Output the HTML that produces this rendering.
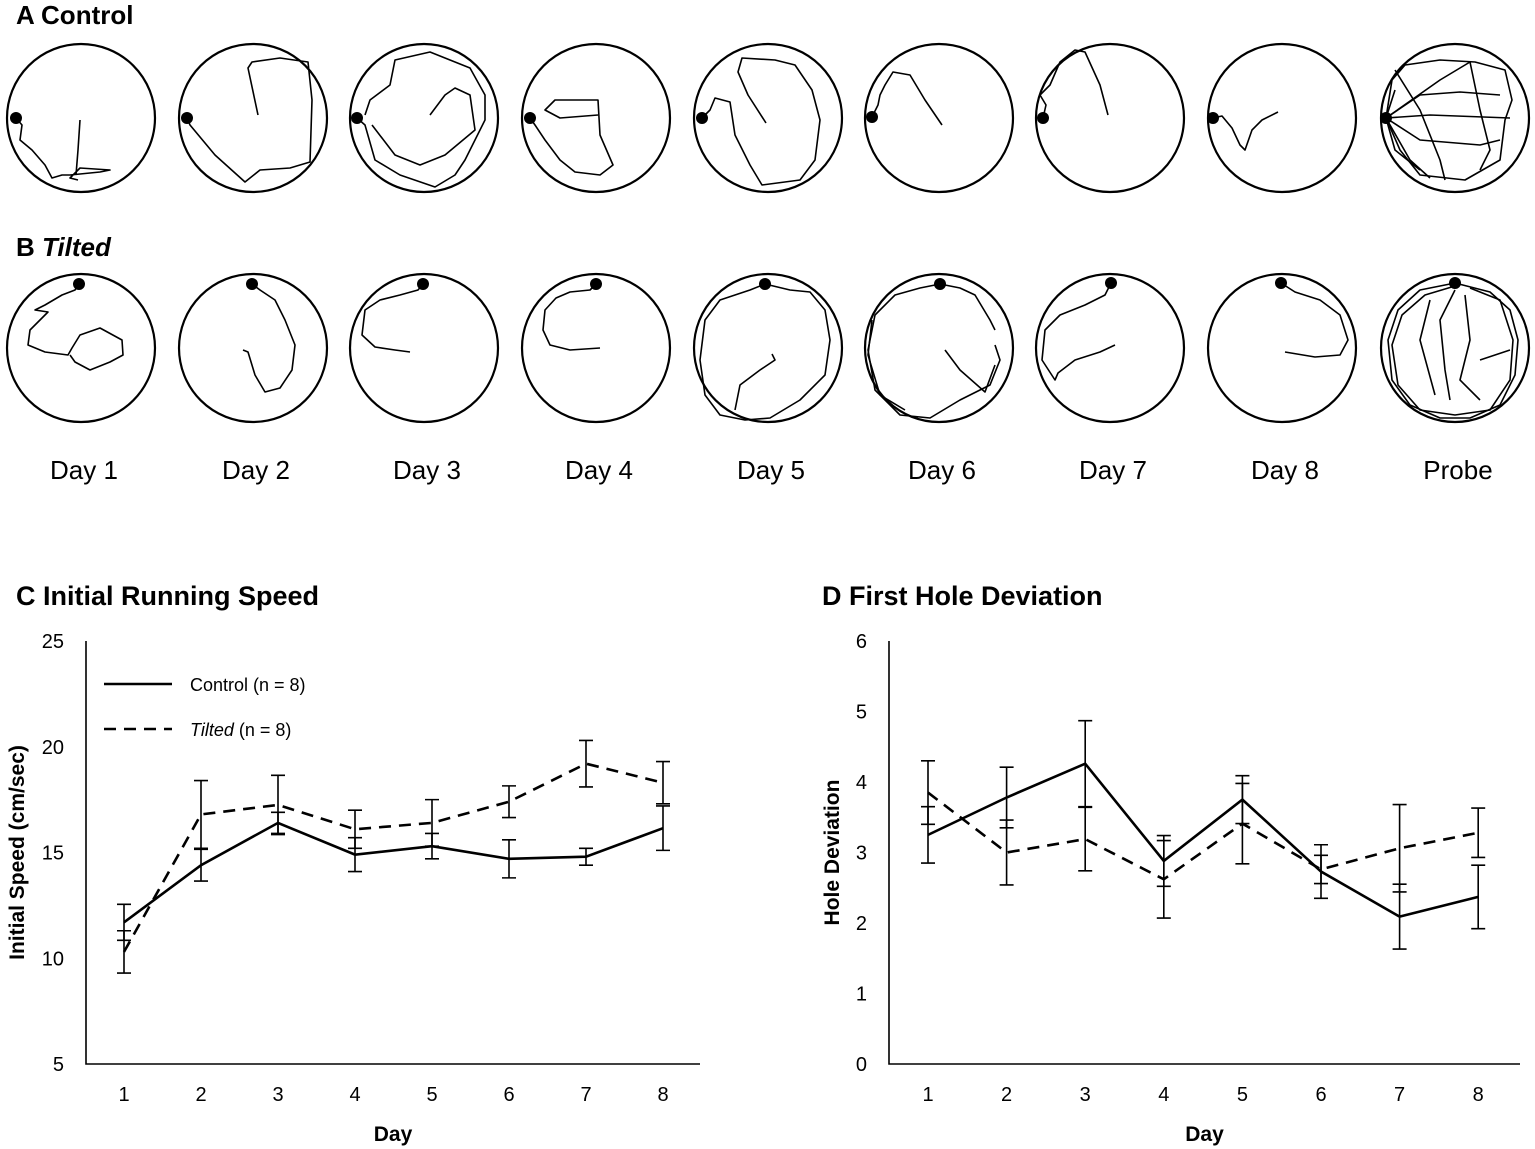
<!DOCTYPE html>
<html><head><meta charset="utf-8">
<style>
body{margin:0;background:#fff;}
svg{display:block;font-family:"Liberation Sans",sans-serif;}
.t{fill:none;stroke:#000;stroke-width:1.6;stroke-linejoin:round}
.c{fill:none;stroke:#000;stroke-width:2.2}
</style></head>
<body>
<svg id="fig" width="1535" height="1149" viewBox="0 0 1535 1149">
<text x="16" y="24" font-size="26" font-weight="bold">A Control</text>
<text x="16" y="256" font-size="26" font-weight="bold">B <tspan font-style="italic">Tilted</tspan></text>
<g id="circles"></g>
<g id="dayLabels"></g>
<text x="16" y="605" font-size="27" font-weight="bold">C Initial Running Speed</text>
<text x="822" y="605" font-size="27" font-weight="bold">D First Hole Deviation</text>
<g id="chartC"></g>
<g id="chartD"></g>
</svg>
<script>
const NS="http://www.w3.org/2000/svg";
function mk(tag,attrs,parent){const e=document.createElementNS(NS,tag);for(const k in attrs)e.setAttribute(k,attrs[k]);parent.appendChild(e);return e;}
// ---- maze tracks ----
const circleXs=[81,253,424,596,768,939,1110,1282,1455];
const rowYs=[118,348];
const dayNames=["Day 1","Day 2","Day 3","Day 4","Day 5","Day 6","Day 7","Day 8","Probe"];
const tracksA=[
 [[[16,118],[22,125],[20,140],[32,150],[45,165],[52,178],[62,175],[70,175],[100,172],[110,170],[80,168],[70,178],[78,180]],[[80,120],[78,150],[76,175]]],
 [[[187,118],[190,125],[215,155],[245,182],[260,170],[290,168],[310,162],[312,100],[308,62],[280,58],[252,62],[248,68],[258,115]]],
 [[[357,118],[365,125],[375,160],[400,175],[435,187],[455,175],[465,160],[485,120],[485,95],[470,68],[430,52],[395,60],[390,85],[370,100],[365,115]],[[372,125],[395,155],[420,165],[445,155],[475,130],[470,95],[455,88],[445,95],[430,115]]],
 [[[530,118],[535,125],[545,140],[560,160],[575,172],[600,175],[613,165],[600,135],[598,100],[555,100],[545,110],[560,118],[598,115]]],
 [[[702,118],[710,110],[715,98],[730,102],[735,135],[750,165],[762,185],[800,180],[815,160],[820,120],[812,90],[795,65],[775,60],[742,58],[738,72],[748,95],[766,123]]],
 [[[872,117],[878,105],[880,95],[885,85],[893,72],[910,75],[925,100],[942,125]]],
 [[[1043,118],[1046,105],[1040,95],[1050,85],[1060,62],[1075,50],[1085,52],[1100,85],[1108,115]]],
 [[[1213,118],[1222,116],[1232,128],[1240,145],[1245,150],[1252,130],[1262,120],[1278,112]]],
 [[[1386,118],[1392,80],[1405,65],[1440,60],[1475,62],[1505,70],[1512,100],[1505,120],[1500,160],[1465,180],[1420,175],[1400,150],[1386,118]],[[1386,118],[1440,80],[1470,62]],[[1386,118],[1420,95],[1460,92],[1500,95]],[[1386,118],[1430,115],[1510,118]],[[1386,118],[1420,140],[1480,145],[1500,140]],[[1395,70],[1420,110],[1440,160],[1445,180]],[[1470,62],[1480,110],[1490,150],[1480,170]],[[1386,118],[1410,160],[1430,178]],[[1395,90],[1386,118],[1395,150],[1420,170]]]
];
const tracksB=[
 [[[79,284],[75,290],[62,295],[45,305],[35,310],[48,312],[30,330],[28,345],[45,352],[68,355],[72,348],[80,335],[100,328],[122,340],[123,355],[110,362],[90,370],[75,362],[70,355]]],
 [[[252,284],[260,290],[275,300],[285,320],[295,345],[292,370],[280,388],[265,392],[255,375],[248,352],[243,350]]],
 [[[423,284],[418,290],[400,295],[380,300],[365,310],[362,335],[375,347],[395,350],[410,352]]],
 [[[596,284],[590,290],[570,292],[556,298],[545,310],[543,330],[550,345],[570,350],[600,348]]],
 [[[765,284],[750,290],[720,300],[705,320],[700,360],[705,395],[720,415],[745,420],[770,418],[800,400],[825,375],[830,340],[825,310],[810,292],[790,290],[765,284]],[[735,410],[740,385],[760,370],[775,360],[772,354]]],
 [[[940,284],[920,288],[895,295],[875,315],[868,350],[875,390],[900,415],[930,418],[960,400],[990,385],[1000,360],[995,345]],[[940,284],[960,288],[975,295],[990,320],[995,330]],[[945,350],[960,370],[985,392],[995,365]],[[872,320],[868,355],[880,395],[905,410]]],
 [[[1111,283],[1105,295],[1085,305],[1060,315],[1045,330],[1042,360],[1055,380],[1058,373],[1075,360],[1100,352],[1115,345]]],
 [[[1281,283],[1295,292],[1320,300],[1340,315],[1348,340],[1340,355],[1315,357],[1285,352]]],
 [[[1455,283],[1420,290],[1398,310],[1388,340],[1392,380],[1410,405],[1440,418],[1470,418],[1500,405],[1515,375],[1518,340],[1510,310],[1490,292],[1455,283]],[[1455,286],[1425,295],[1402,315],[1392,345],[1398,385],[1420,410],[1455,415],[1490,410],[1510,380],[1513,340],[1500,300],[1470,288]],[[1455,290],[1440,320],[1445,370],[1450,400]],[[1465,295],[1470,340],[1460,380],[1480,400]],[[1480,360],[1510,350]],[[1430,300],[1420,340],[1435,395]]]
];
const circG=document.getElementById('circles');
[tracksA,tracksB].forEach((rowTracks,ri)=>{
  rowTracks.forEach((paths,i)=>{
    const g=mk('g',{},circG);
    
    
    mk('circle',{cx:circleXs[i],cy:rowYs[ri],r:74,class:'c'},g);
    paths.forEach(p=>{mk('polyline',{points:p.map(q=>q.join(',')).join(' '),class:'t'},g);});
    const s=paths[0][0];
    mk('circle',{cx:s[0],cy:s[1],r:6,fill:'#000'},g);
  });
});
const dl=document.getElementById('dayLabels');
dayNames.forEach((d,i)=>{const t=mk('text',{x:circleXs[i]+3,y:479,'font-size':26,'text-anchor':'middle'},dl);t.textContent=d;

});

// ---- line charts ----
const days=[1,2,3,4,5,6,7,8];
const speedControl=[11.7,14.4,16.4,14.9,15.3,14.7,14.8,16.15];
const speedControlErr=[0.85,0.75,0.5,0.8,0.6,0.9,0.4,1.05];
const speedTilted=[10.3,16.8,17.25,16.1,16.4,17.4,19.2,18.3];
const speedTiltedErr=[1.0,1.6,1.4,0.9,1.1,0.75,1.1,1.0];
const speedTicks=[5,10,15,20,25];
const devControl=[3.25,3.78,4.26,2.88,3.75,2.73,2.09,2.37];
const devControlErr=[0.4,0.43,0.61,0.36,0.34,0.38,0.46,0.45];
const devTilted=[3.85,3.0,3.19,2.62,3.41,2.76,3.06,3.28];
const devTiltedErr=[0.45,0.46,0.45,0.55,0.57,0.2,0.62,0.35];
const devTicks=[0,1,2,3,4,5,6];

function chart(gid,cfg){
  const g=document.getElementById(gid);
  const y=v=>cfg.y0+(v-cfg.ymin)/(cfg.ymax-cfg.ymin)*(cfg.y1-cfg.y0);
  const x=d=>cfg.xd1+(d-1)*cfg.step;
  const ax=mk('path',{d:`M${cfg.axL},${cfg.y1} V${cfg.y0} H${cfg.axR}`,fill:'none',stroke:'#000','stroke-width':1.6},g);
  
  
  cfg.ticks.forEach(t=>{const e=mk('text',{x:cfg.axL-22,y:y(t)+7,'font-size':20,'text-anchor':'end'},g);e.textContent=t;
    
    });
  days.forEach(d=>{const e=mk('text',{x:x(d),y:1101,'font-size':20,'text-anchor':'middle'},g);e.textContent=d;
    
    });
  const xt=mk('text',{x:(cfg.axL+cfg.axR)/2,y:1141,'font-size':21,'font-weight':'bold','text-anchor':'middle'},g);xt.textContent='Day';
  
  
  const yt=mk('text',{x:0,y:0,'font-size':21,'font-weight':'bold','text-anchor':'middle',transform:`translate(${cfg.ytx},${(cfg.y0+cfg.y1)/2}) rotate(-90)`},g);yt.textContent=cfg.ytitle;
  
  
  [[cfg.a,cfg.ae,null,'control'],[cfg.b,cfg.be,'12,8','tilted']].forEach(([vals,errs,dash,nm])=>{
    errs.forEach((e,i)=>{const xx=x(days[i]);const p=mk('path',{d:`M${xx},${y(vals[i]+e)} V${y(vals[i]-e)} M${xx-7},${y(vals[i]+e)} h14 M${xx-7},${y(vals[i]-e)} h14`,stroke:'#000','stroke-width':1.6,fill:'none'},g);
      
      });
    const attrs={points:vals.map((v,i)=>x(days[i])+','+y(v)).join(' '),fill:'none',stroke:'#000','stroke-width':2.6};
    if(dash)attrs['stroke-dasharray']=dash;
    const l=mk('polyline',attrs,g);
    
    
  });
}
chart('chartC',{y0:1064,y1:641,ymin:5,ymax:25,axL:86,axR:700,xd1:124,step:77,ticks:speedTicks,ytitle:'Initial Speed (cm/sec)',ytx:24,a:speedControl,ae:speedControlErr,b:speedTilted,be:speedTiltedErr});
chart('chartD',{y0:1064,y1:641,ymin:0,ymax:6,axL:889,axR:1520,xd1:928,step:78.6,ticks:devTicks,ytitle:'Hole Deviation',ytx:839,a:devControl,ae:devControlErr,b:devTilted,be:devTiltedErr});
// legend
const lc=document.getElementById('chartC');
const lg=mk('g',{},lc);


mk('line',{x1:104,y1:684,x2:172,y2:684,stroke:'#000','stroke-width':2.6},lg);
mk('line',{x1:104,y1:729,x2:172,y2:729,stroke:'#000','stroke-width':2.6,'stroke-dasharray':'12,8'},lg);
const t1=mk('text',{x:190,y:691,'font-size':18},lg);t1.textContent='Control (n = 8)';
const t2=mk('text',{x:190,y:736,'font-size':18},lg);t2.innerHTML='<tspan font-style="italic">Tilted</tspan> (n = 8)';
</script>
</body></html>
